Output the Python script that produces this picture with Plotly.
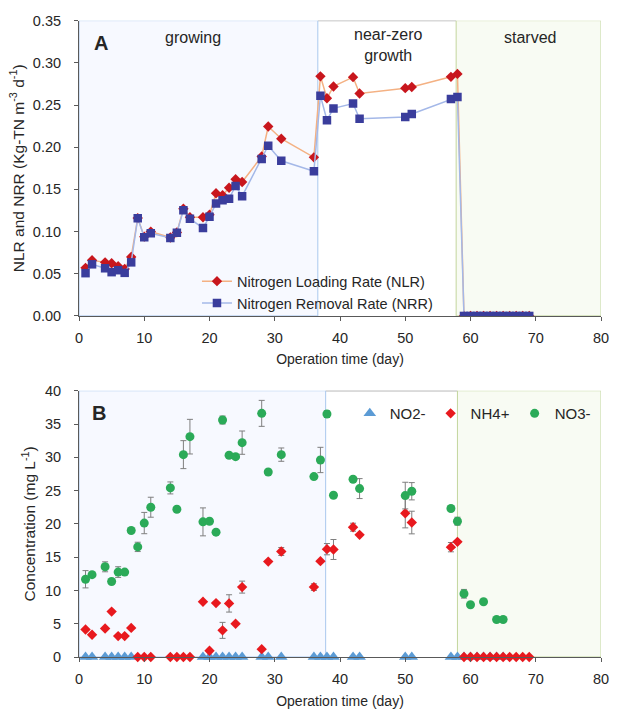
import plotly.graph_objects as go

# ---------- Panel A data ----------
nlr_days = [1, 2, 4, 5, 6, 7, 8, 9, 10, 11, 14, 15, 16, 17, 19, 20, 21, 22, 23, 24, 25, 28, 29, 31, 36,
            37, 38, 39, 42, 43, 50, 51, 57, 58, 59, 60, 61, 62, 63, 64, 65, 66, 67, 68, 69]
nlr_vals = [0.057, 0.066, 0.0635, 0.0625, 0.059, 0.0557, 0.070, 0.116, 0.094, 0.100, 0.093, 0.099, 0.127, 0.117,
            0.117, 0.120, 0.1455, 0.143, 0.152, 0.162, 0.1587, 0.189, 0.2245, 0.210, 0.188,
            0.284, 0.258, 0.272, 0.283, 0.2636, 0.270, 0.2714, 0.2834, 0.2869,
            0, 0, 0, 0, 0, 0, 0, 0, 0, 0, 0]
nrr_days = nlr_days
nrr_vals = [0.0507, 0.0612, 0.0565, 0.0519, 0.0542, 0.0511, 0.0635, 0.1158, 0.0933, 0.098, 0.0925, 0.0987,
            0.1254, 0.1153, 0.1041, 0.1177, 0.1332, 0.137, 0.139, 0.154, 0.142, 0.186, 0.2017, 0.1839, 0.1715,
            0.261, 0.232, 0.246, 0.2517, 0.2338, 0.2358, 0.2393, 0.257, 0.2594,
            0, 0, 0, 0, 0, 0, 0, 0, 0, 0, 0]

# ---------- Panel B data ----------
no2_days = [1, 2, 4, 5, 6, 7, 8, 19, 20, 21, 22, 23, 24, 25, 28, 29, 31, 36, 37, 38, 39, 42, 43, 50, 51,
            57, 58, 59, 60, 61, 62, 63, 64, 65]
no2_vals = [0] * len(no2_days)

nh4_days = [1, 2, 4, 5, 6, 7, 8, 9, 10, 11, 14, 15, 16, 17, 19, 20, 21, 22, 23, 24, 25, 28, 29, 31, 36,
            37, 38, 39, 42, 43, 50, 51, 57, 58, 59, 60, 61, 62, 63, 64, 65, 66, 67, 68, 69]
nh4_vals = [4.12, 3.34, 4.27, 6.82, 3.14, 3.14, 4.37, 0, 0, 0, 0, 0, 0, 0, 8.3, 0.93, 8.1, 4.0, 8.05, 5.0,
            10.5, 1.18, 14.33, 15.85, 10.5, 14.4, 16.2, 16.15, 19.5, 18.35, 21.6, 20.2, 16.5, 17.3,
            0, 0, 0, 0, 0, 0, 0, 0, 0, 0, 0]
nh4_err = [0, 0, 0, 0, 0, 0, 0, 0, 0, 0, 0, 0, 0, 0, 0, 0, 0, 1.2, 1.3, 0, 0.9, 0, 0, 0.6, 0.5,
           0, 0.85, 1.5, 0.6, 0, 2.2, 1.7, 0.7, 0,
           0, 0, 0, 0, 0, 0, 0, 0, 0, 0, 0]

no3_days = [1, 2, 4, 5, 6, 7, 8, 9, 10, 11, 14, 15, 16, 17, 19, 20, 21, 22, 23, 24, 25, 28, 29, 31, 36,
            37, 38, 39, 42, 43, 50, 51, 57, 58, 59, 60, 62, 64, 65]
no3_vals = [11.68, 12.37, 13.55, 11.34, 12.76, 12.76, 19.0, 16.54, 20.12, 22.5, 25.4, 22.2, 30.4, 33.1,
            20.3, 20.4, 18.75, 35.6, 30.3, 30.1, 32.2, 36.6, 27.8, 30.4, 27.1,
            29.6, 36.5, 24.3, 26.7, 25.3, 24.25, 24.9, 22.3, 20.4, 9.5, 7.85, 8.3, 5.64, 5.64]
no3_err = [1.3, 0, 0.75, 0, 0.8, 0, 0, 0.7, 1.6, 1.5, 0.9, 0, 2.1, 2.6, 2.1, 0, 0, 0.6, 0, 0, 1.75,
           1.95, 0, 1.0, 0, 1.9, 0.5, 0, 0, 1.5, 2.0, 1.3, 0, 0.6, 0.65, 0, 0, 0, 0]

x_ticks = [0, 10, 20, 30, 40, 50, 60, 70, 80]

FONT = "Arial, Liberation Sans, sans-serif"
AX = "#595959"
TXT = "#262626"
BLUE_FILL, BLUE_LINE = "#F7F9FF", "#A9C8EE"
GREEN_FILL, GREEN_LINE = "#F8FBF3", "#C3D69E"

fig = go.Figure()

# Panel A traces
fig.add_trace(go.Scatter(
    x=nlr_days, y=nlr_vals, mode="lines+markers", name="Nitrogen Loading Rate (NLR)",
    line=dict(color="#F4B183", width=1.5),
    marker=dict(symbol="diamond", size=8, color="#C8161D"),
    xaxis="x", yaxis="y", legend="legend"))
fig.add_trace(go.Scatter(
    x=nrr_days, y=nrr_vals, mode="lines+markers", name="Nitrogen Removal Rate (NRR)",
    line=dict(color="#A4B8E8", width=1.5),
    marker=dict(symbol="square", size=8.5, color="#3A3D9C"),
    xaxis="x", yaxis="y", legend="legend"))

# Panel B traces
fig.add_trace(go.Scatter(
    x=no2_days, y=no2_vals, mode="markers", name="NO2-",
    marker=dict(symbol="triangle-up", size=11, color="#5B9BD5"),
    xaxis="x2", yaxis="y2", legend="legend2", cliponaxis=False))
fig.add_trace(go.Scatter(
    x=nh4_days, y=nh4_vals, mode="markers", name="NH4+",
    marker=dict(symbol="diamond", size=8, color="#E8191E"),
    error_y=dict(type="data", array=nh4_err, color="#7F7F7F", thickness=1, width=3),
    xaxis="x2", yaxis="y2", legend="legend2", cliponaxis=False))
fig.add_trace(go.Scatter(
    x=no3_days, y=no3_vals, mode="markers", name="NO3-",
    marker=dict(symbol="circle", size=9, color="#2BAA58"),
    error_y=dict(type="data", array=no3_err, color="#7F7F7F", thickness=1, width=3),
    xaxis="x2", yaxis="y2", legend="legend2", cliponaxis=False))

shapes = []
for xr, yr, b1, b2, ytop in [("x", "y", 36.6, 57.8, 0.35), ("x2", "y2", 37.8, 58, 40)]:
    shapes += [
        dict(type="line", xref=xr, yref=yr, x0=b1, x1=b2, y0=ytop, y1=ytop, layer="below",
             line=dict(color=AX, width=1)),
        dict(type="rect", xref=xr, yref=yr, x0=0, x1=b1, y0=0, y1=ytop, layer="below",
             fillcolor=BLUE_FILL, line=dict(color=BLUE_LINE, width=1)),
        dict(type="rect", xref=xr, yref=yr, x0=b2, x1=80, y0=0, y1=ytop, layer="below",
             fillcolor=GREEN_FILL, line=dict(color=GREEN_LINE, width=1)),
    ]

annotations = [
    dict(text="<b>A</b>", x=3.3, y=0.324, xref="x", yref="y", showarrow=False,
         font=dict(size=20, color=TXT, family=FONT)),
    dict(text="growing", x=17.5, y=0.33, xref="x", yref="y", showarrow=False,
         font=dict(size=16, color=TXT, family=FONT)),
    dict(text="near-zero<br>growth", x=47.4, y=0.321, xref="x", yref="y", showarrow=False,
         font=dict(size=16, color=TXT, family=FONT)),
    dict(text="starved", x=69.1, y=0.33, xref="x", yref="y", showarrow=False,
         font=dict(size=16, color=TXT, family=FONT)),
    dict(text="<b>B</b>", x=3.1, y=36.7, xref="x2", yref="y2", showarrow=False,
         font=dict(size=20, color=TXT, family=FONT)),
]

axis_common = dict(showline=True, linecolor=AX, linewidth=1, ticks="outside", ticklen=4,
                   tickcolor=AX, showgrid=False, zeroline=False, ticklabelstandoff=5,
                   ticklabeloverflow="allow",
                   tickfont=dict(size=14.5, color=TXT, family=FONT))
yaxis_extra = dict(ticklabelstandoff=10)

fig.update_layout(
    width=619, height=716,
    margin=dict(l=79, r=10, t=20, b=46),
    paper_bgcolor="white", plot_bgcolor="white",
    font=dict(family=FONT, color=TXT),
    shapes=shapes, annotations=annotations,
    xaxis=dict(domain=[0, 1], anchor="y", range=[0, 80], tickvals=x_ticks,
               title=dict(text="Operation time (day)", font=dict(size=14, color=TXT), standoff=8),
               **axis_common),
    yaxis=dict(domain=[0.5354, 0.999], anchor="x", range=[0, 0.35], dtick=0.05, tickformat=".2f",
               title=dict(text="NLR and NRR (Kg-TN m<sup>-3</sup> d<sup>-1</sup>)",
                          font=dict(size=15.5, color=TXT), standoff=4),
               **{**axis_common, **yaxis_extra}),
    xaxis2=dict(domain=[0, 1], anchor="y2", range=[0, 80], tickvals=x_ticks,
                title=dict(text="Operation time (day)", font=dict(size=14, color=TXT), standoff=9),
                **axis_common),
    yaxis2=dict(domain=[0, 0.418], anchor="x2", range=[0, 40], dtick=5,
                title=dict(text="Concentration (mg L<sup>-1</sup>)",
                           font=dict(size=15.5, color=TXT), standoff=5),
                **{**axis_common, **yaxis_extra}),
    legend=dict(x=0.226, y=0.615, xanchor="left", yanchor="top", bgcolor="rgba(0,0,0,0)",
                font=dict(size=14.5, color=TXT, family=FONT), tracegroupgap=0, itemwidth=30),
    legend2=dict(x=0.99, y=0.408, xanchor="right", yanchor="top", orientation="h",
                 bgcolor="rgba(0,0,0,0)", font=dict(size=15, color=TXT, family=FONT), itemwidth=30),
    showlegend=True,
)

fig.write_html("out.html", config={"displayModeBar": False},
               post_script="document.body.style.margin='0';document.body.style.overflow='hidden';")
